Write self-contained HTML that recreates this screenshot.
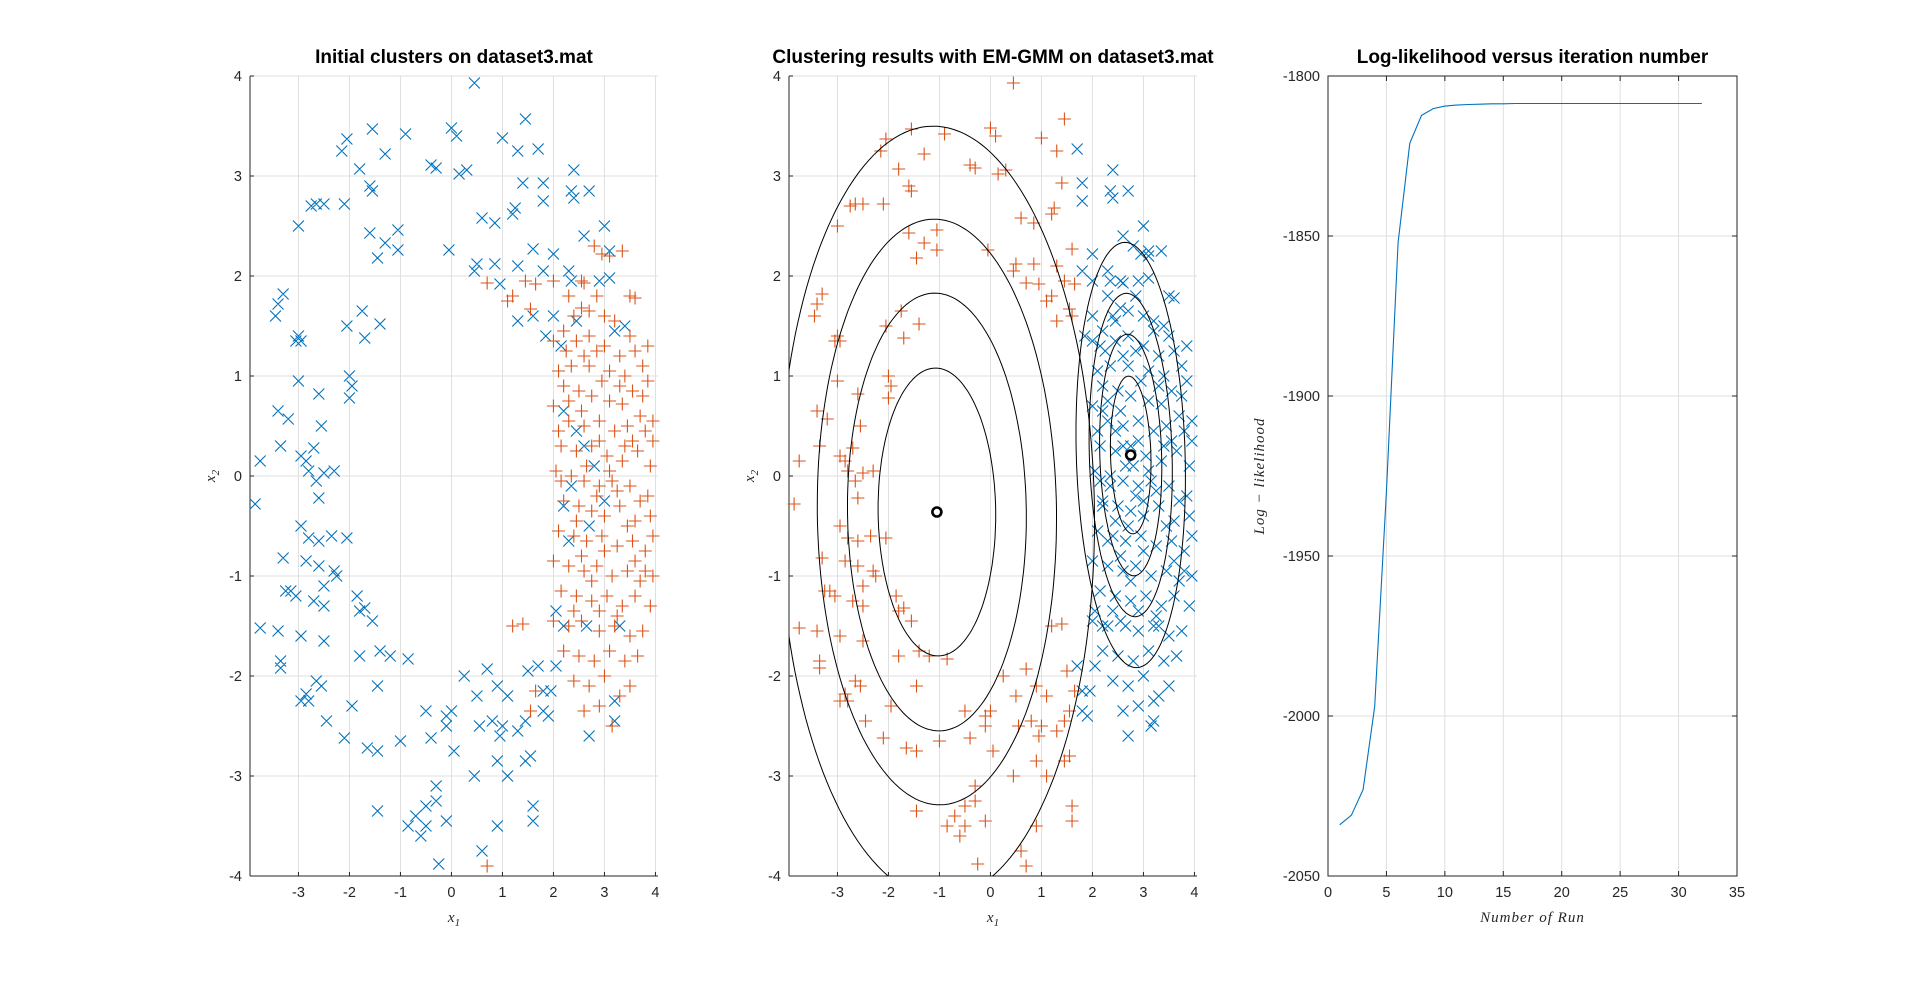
<!DOCTYPE html>
<html><head><meta charset="utf-8"><style>
html,body{margin:0;padding:0;background:#fff;}
svg{display:block;}
text{font-family:"Liberation Sans",sans-serif;fill:#262626;}
.ttl{font-weight:bold;font-size:19px;fill:#000;}
.tk{font-size:14.5px;}
.lab{font-family:"Liberation Serif",serif;font-style:italic;font-size:15px;}
</style></head><body>
<svg id="fig" width="1920" height="987" viewBox="0 0 1920 987" xmlns="http://www.w3.org/2000/svg"></svg>
<script>
// ---- data ----
// ring points: blue in initial, red after EM
const ringA=[[0.45,3.93],[1.45,3.57],[0,3.48],[0.1,3.4],[-0.9,3.42],[-1.55,3.47],[-2.05,3.37],[-2.15,3.25],[-1.3,3.22],[-1.8,3.07],[-0.4,3.11],[-0.3,3.08],[0.15,3.02],[0.3,3.06],[1.0,3.38],[1.3,3.25],[1.4,2.93],[-2.75,2.7],[-2.65,2.72],[-2.5,2.72],[-1.6,2.9],[-1.55,2.85],[-2.1,2.72],[-3.0,2.5],[0.6,2.58],[0.85,2.53],[1.2,2.62],[1.25,2.68],[-1.6,2.43],[-1.05,2.46],[-1.3,2.33],[-1.45,2.18],[-0.05,2.26],[-1.05,2.26],[0.5,2.12],[0.45,2.05],[0.85,2.12],[1.3,2.1],[1.6,2.27],[0.95,1.92],[1.6,1.6],[1.3,1.55],[-3.45,1.6],[-3.4,1.72],[-3.3,1.82],[-3.0,1.4],[-3.05,1.35],[-2.95,1.35],[-2.05,1.5],[-1.75,1.65],[-1.7,1.38],[-1.4,1.52],[-2.0,1.0],[-1.95,0.9],[-2.0,0.78],[-3.0,0.95],[-3.4,0.65],[-3.2,0.57],[-2.6,0.82],[-2.55,0.5],[-2.7,0.28],[-3.35,0.3],[-3.75,0.15],[-2.95,0.2],[-2.8,0.05],[-2.85,0.15],[-2.5,0.03],[-2.3,0.05],[-2.65,-0.05],[-2.6,-0.22],[-3.85,-0.28],[-2.95,-0.5],[-2.8,-0.62],[-2.6,-0.65],[-2.35,-0.6],[-2.05,-0.62],[-3.3,-0.82],[-2.85,-0.85],[-2.6,-0.9],[-2.3,-0.95],[-2.5,-1.1],[-2.25,-1.0],[-3.25,-1.15],[-3.15,-1.15],[-3.05,-1.2],[-2.7,-1.25],[-2.5,-1.3],[-1.85,-1.2],[-1.8,-1.35],[-1.7,-1.32],[-1.55,-1.45],[-3.75,-1.52],[-3.4,-1.55],[-2.95,-1.6],[-2.5,-1.65],[-1.8,-1.8],[-1.4,-1.75],[-1.2,-1.8],[-0.85,-1.83],[-3.35,-1.85],[-3.35,-1.92],[-2.65,-2.05],[-2.55,-2.1],[-2.85,-2.18],[-2.95,-2.25],[-2.8,-2.25],[-2.45,-2.45],[-1.45,-2.1],[-1.95,-2.3],[-2.1,-2.62],[-1.65,-2.72],[-1.45,-2.75],[-1.0,-2.65],[-0.5,-2.35],[-0.1,-2.4],[0,-2.35],[-0.1,-2.5],[0.05,-2.75],[-0.4,-2.62],[0.25,-2.0],[0.7,-1.93],[0.5,-2.2],[0.9,-2.1],[0.8,-2.45],[1.1,-2.2],[1.0,-2.5],[1.3,-2.55],[1.45,-2.45],[1.5,-1.95],[0.55,-2.5],[0.95,-2.6],[0.9,-2.85],[1.45,-2.85],[1.55,-2.8],[1.6,-3.3],[1.6,-3.45],[1.1,-3.0],[0.45,-3.0],[-0.3,-3.1],[-0.3,-3.25],[-0.5,-3.3],[-0.7,-3.4],[-0.5,-3.5],[-1.45,-3.35],[-0.85,-3.5],[-0.6,-3.6],[-0.1,-3.45],[0.9,-3.5],[0.6,-3.75],[-0.25,-3.88]];
// ring points on the right: blue in both
const ringB=[[1.7,3.27],[2.7,2.85],[2.35,2.85],[1.8,2.93],[2.4,3.06],[2.4,2.78],[1.8,2.75],[2.6,2.4],[3.0,2.5],[1.8,2.05],[2.0,2.22],[2.3,2.05],[2.35,1.95],[2.9,1.95],[3.1,1.98],[3.1,2.25],[2.0,1.6],[2.45,1.55],[3.4,1.5],[3.2,1.45],[1.85,1.4],[2.15,1.3],[2.2,0.65],[2.45,0.45],[2.8,0.1],[2.2,-0.3],[2.3,-0.65],[2.7,-0.5],[2.05,-1.35],[2.2,-1.5],[2.65,-1.5],[3.3,-1.5],[2.05,-1.9],[1.95,-2.15],[3.2,-2.25],[3.2,-2.45],[2.7,-2.6],[1.8,-2.15],[1.9,-2.4],[2.35,-0.1],[2.6,0.3],[3.0,-0.25],[1.7,-1.9],[1.8,-2.35]];
// dense cluster: red in initial, blue after EM
const clusterC=[[2.8,2.3],[2.95,2.22],[3.1,2.2],[3.35,2.25],[2.0,1.95],[2.55,1.95],[2.6,1.93],[3.5,1.8],[3.6,1.78],[2.85,1.8],[2.4,1.6],[2.7,1.65],[2.55,1.68],[2.3,1.8],[2.0,1.35],[2.2,1.45],[2.45,1.35],[2.85,1.25],[3.2,1.55],[3.6,1.25],[3.75,1.1],[2.6,1.2],[2.7,1.1],[3.0,1.3],[3.3,1.2],[3.4,1.0],[2.35,1.1],[2.1,1.05],[2.95,0.95],[3.55,0.85],[3.85,0.95],[2.2,0.9],[2.5,0.85],[2.75,0.8],[3.1,0.75],[3.35,0.72],[2.0,0.7],[3.7,0.6],[3.95,0.55],[3.8,0.45],[2.3,0.55],[2.6,0.5],[2.9,0.55],[3.2,0.45],[3.45,0.5],[2.15,0.3],[2.45,0.25],[2.75,0.3],[3.05,0.2],[3.35,0.15],[3.65,0.25],[3.9,0.1],[2.05,0.05],[2.35,0.0],[2.6,-0.05],[2.9,-0.1],[3.15,-0.05],[3.5,-0.1],[3.85,-0.2],[2.2,-0.25],[2.5,-0.3],[2.75,-0.35],[3.0,-0.4],[3.3,-0.3],[3.6,-0.45],[3.9,-0.4],[2.1,-0.55],[2.4,-0.6],[2.65,-0.65],[2.95,-0.6],[3.25,-0.7],[3.55,-0.65],[3.8,-0.75],[2.0,-0.85],[2.3,-0.9],[2.6,-0.95],[2.85,-0.9],[3.15,-1.0],[3.45,-0.95],[3.7,-1.05],[3.95,-1.0],[2.15,-1.15],[2.45,-1.2],[2.75,-1.25],[3.05,-1.2],[3.35,-1.3],[3.6,-1.2],[3.9,-1.3],[2.0,-1.45],[2.3,-1.5],[2.55,-1.45],[2.9,-1.55],[3.2,-1.5],[3.5,-1.6],[3.75,-1.55],[2.2,-1.75],[2.5,-1.8],[2.8,-1.85],[3.1,-1.75],[3.4,-1.85],[3.65,-1.8],[2.4,-2.05],[2.7,-2.1],[3.0,-2.0],[3.3,-2.2],[2.6,-2.35],[3.15,-2.5],[2.3,0.75],[2.55,0.65],[3.55,0.35],[3.25,-0.15],[2.45,-0.45],[2.85,-0.2],[3.1,0.05],[2.65,0.1],[3.45,-0.5],[3.7,-0.25],[2.25,1.25],[3.1,1.05],[3.5,1.4],[2.75,-1.05],[3.25,-1.4],[2.9,-1.35],[2.4,-1.35],[3.8,-0.95],[3.95,0.35],[3.95,-0.6],[2.1,0.45],[2.9,0.35],[3.3,0.9],[3.75,0.8],[2.55,-0.8],[3.0,-0.75],[3.6,-0.85],[2.15,-0.05],[3.4,0.3],[2.7,1.4],[3.0,1.6],[3.85,1.3],[2.9,-2.3],[3.5,-2.1]];
// red in both
const redD=[[0.7,-3.9],[1.4,-1.48],[1.2,-1.5],[1.55,-2.35],[1.65,-2.15],[0.7,1.93],[1.2,1.8],[1.55,1.67],[1.65,1.92],[1.45,1.95],[1.1,1.75]];
const centers=[[-1.05,-0.36],[2.75,0.21]];
const leftSemiY=[1.44,2.19,2.93,3.86];
const rightSemiY=[0.79,1.21,1.62,2.13];
const runs=[1,2,3,4,5,6,7,8,9,10,11,12,13,14,15,16,17,18,19,20,21,22,23,24,25,26,27,28,29,30,31,32];
const loglik=[-2034,-2031,-2023,-1997,-1930,-1852,-1821,-1812.3,-1810.2,-1809.4,-1809.1,-1808.9,-1808.8,-1808.7,-1808.7,-1808.6,-1808.6,-1808.6,-1808.6,-1808.6,-1808.6,-1808.6,-1808.6,-1808.6,-1808.6,-1808.6,-1808.6,-1808.6,-1808.6,-1808.6,-1808.6,-1808.6];
const xTicks=[-3,-2,-1,0,1,2,3,4];
const yTicks=[-4,-3,-2,-1,0,1,2,3,4];
const runTicks=[0,5,10,15,20,25,30,35];
const llTicks=[-2050,-2000,-1950,-1900,-1850,-1800];

const NS="http://www.w3.org/2000/svg";
const svg=document.getElementById('fig');
function el(tag,attrs,parent,txt){const e=document.createElementNS(NS,tag);for(const k in attrs)e.setAttribute(k,attrs[k]);if(txt!==undefined)e.textContent=txt;(parent||svg).appendChild(e);return e;}
const BLUE="#0072BD",RED="#D95319",AX="#262626",GRID="#dfdfdf";
const T=76,B=876;

function scatterAxes(L,R,title,name){
  const g=el('g',{});
  
  
  const sx=v=>L+(v+3.95)/8*(R-L), sy=v=>T+(4-v)/8*(B-T);
  xTicks.forEach(t=>{el('line',{x1:sx(t),x2:sx(t),y1:T,y2:B,stroke:GRID},g);});
  yTicks.forEach(t=>{el('line',{x1:L,x2:R,y1:sy(t),y2:sy(t),stroke:GRID},g);});
  el('line',{x1:L,x2:L,y1:T,y2:B,stroke:AX},g);
  el('line',{x1:L,x2:R,y1:B,y2:B,stroke:AX},g);
  xTicks.forEach(t=>{el('line',{x1:sx(t),x2:sx(t),y1:B,y2:B-4,stroke:AX},g);
    const lb=el('text',{x:sx(t),y:B+21,'text-anchor':'middle',class:'tk'},g,String(t));
    
    });
  yTicks.forEach(t=>{el('line',{x1:L,x2:L+4,y1:sy(t),y2:sy(t),stroke:AX},g);
    const lb=el('text',{x:L-8,y:sy(t)+5,'text-anchor':'end',class:'tk'},g,String(t));
    
    });
  const tt=el('text',{x:(L+R)/2,y:63,'text-anchor':'middle',class:'ttl'},g,title);
  
  
  const xl=el('text',{x:(L+R)/2,y:922,'text-anchor':'middle',class:'lab'},g);
  
  
  el('tspan',{},xl,'x');el('tspan',{dy:4,'font-size':'11px'},xl,'1');
  const yl=el('text',{transform:`translate(${L-35},${(T+B)/2}) rotate(-90)`,'text-anchor':'middle',class:'lab'},g);
  
  
  el('tspan',{},yl,'x');el('tspan',{dy:4,'font-size':'11px'},yl,'2');
  return {g,sx,sy};
}
function xMark(g,sx,sy,pts,name){const s=5.5;let d='';pts.forEach(p=>{const x=sx(p[0]),y=sy(p[1]);d+=`M${x-s},${y-s}L${x+s},${y+s}M${x-s},${y+s}L${x+s},${y-s}`;});
  const p=el('path',{d,stroke:BLUE,'stroke-width':1.1,fill:'none'},g);}
function pMark(g,sx,sy,pts,name){const s=6.5;let d='';pts.forEach(p=>{const x=sx(p[0]),y=sy(p[1]);d+=`M${x-s},${y}L${x+s},${y}M${x},${y-s}L${x},${y+s}`;});
  const p=el('path',{d,stroke:RED,'stroke-width':1.1,fill:'none'},g);}

// plot 1
const p1=scatterAxes(250,658,'Initial clusters on dataset3.mat','initial-clusters-plot');
xMark(p1.g,p1.sx,p1.sy,ringA.concat(ringB),'cluster-1-points');
pMark(p1.g,p1.sx,p1.sy,clusterC.concat(redD),'cluster-2-points');

// plot 2
const p2=scatterAxes(789,1197,'Clustering results with EM-GMM on dataset3.mat','em-gmm-plot');
el('clipPath',{id:'c2'},p2.g).appendChild(el('rect',{x:789,y:T,width:408,height:B-T},null));
xMark(p2.g,p2.sx,p2.sy,ringB.concat(clusterC),'cluster-1-points');
pMark(p2.g,p2.sx,p2.sy,ringA.concat(redD),'cluster-2-points');
function ellipse(c,sYs,ratio,ang,name){
  const a=ang*Math.PI/180;
  sYs.forEach(sy0=>{let d='';for(let i=0;i<=180;i++){const t=i/180*2*Math.PI;const ex=sy0*ratio*Math.cos(t),ey=sy0*Math.sin(t);
    const x=c[0]+ex*Math.cos(a)-ey*Math.sin(a),y=c[1]+ex*Math.sin(a)+ey*Math.cos(a);d+=(i?'L':'M')+p2.sx(x).toFixed(1)+','+p2.sy(y).toFixed(1);}
    const p=el('path',{d,stroke:'#000','stroke-width':1,fill:'none','clip-path':'url(#c2)'},p2.g);
    
    });
}
ellipse(centers[0],leftSemiY,0.8,3,'component-1-contour');
ellipse(centers[1],rightSemiY,0.5,4,'component-2-contour');
centers.forEach(c=>{const m=el('circle',{cx:p2.sx(c[0]),cy:p2.sy(c[1]),r:4.5,stroke:'#000','stroke-width':2.6,fill:'none'},p2.g);
  
  });

// plot 3
(function(){
  const L=1328,R=1737;
  const g=el('g',{});
  
  
  const sx=v=>L+v/35*(R-L), sy=v=>T+(-1800-v)/250*(B-T);
  runTicks.forEach(t=>{el('line',{x1:sx(t),x2:sx(t),y1:T,y2:B,stroke:GRID},g);});
  llTicks.forEach(t=>{el('line',{x1:L,x2:R,y1:sy(t),y2:sy(t),stroke:GRID},g);});
  el('rect',{x:L,y:T,width:R-L,height:B-T,fill:'none',stroke:AX},g);
  runTicks.forEach(t=>{el('line',{x1:sx(t),x2:sx(t),y1:B,y2:B-5,stroke:AX},g);el('line',{x1:sx(t),x2:sx(t),y1:T,y2:T+5,stroke:AX},g);
    const lb=el('text',{x:sx(t),y:B+21,'text-anchor':'middle',class:'tk'},g,String(t));
    
    });
  llTicks.forEach(t=>{el('line',{x1:L,x2:L+5,y1:sy(t),y2:sy(t),stroke:AX},g);el('line',{x1:R,x2:R-5,y1:sy(t),y2:sy(t),stroke:AX},g);
    const lb=el('text',{x:L-8,y:sy(t)+5,'text-anchor':'end',class:'tk'},g,String(t));
    
    });
  const pts=runs.map((r,i)=>sx(r).toFixed(1)+','+sy(loglik[i]).toFixed(1)).join(' ');
  const ln=el('polyline',{points:pts,fill:'none',stroke:BLUE,'stroke-width':1.1},g);
  
  
  const tt=el('text',{x:(L+R)/2,y:63,'text-anchor':'middle',class:'ttl'},g,'Log-likelihood versus iteration number');
  
  
  const xl=el('text',{x:(L+R)/2,y:922,'text-anchor':'middle',class:'lab','letter-spacing':'1'},g,'Number of Run');
  
  
  const yl=el('text',{transform:`translate(1264,${(T+B)/2}) rotate(-90)`,'text-anchor':'middle',class:'lab','letter-spacing':'1'},g,'Log − likelihood');
  
  
})();
</script>
</body></html>
